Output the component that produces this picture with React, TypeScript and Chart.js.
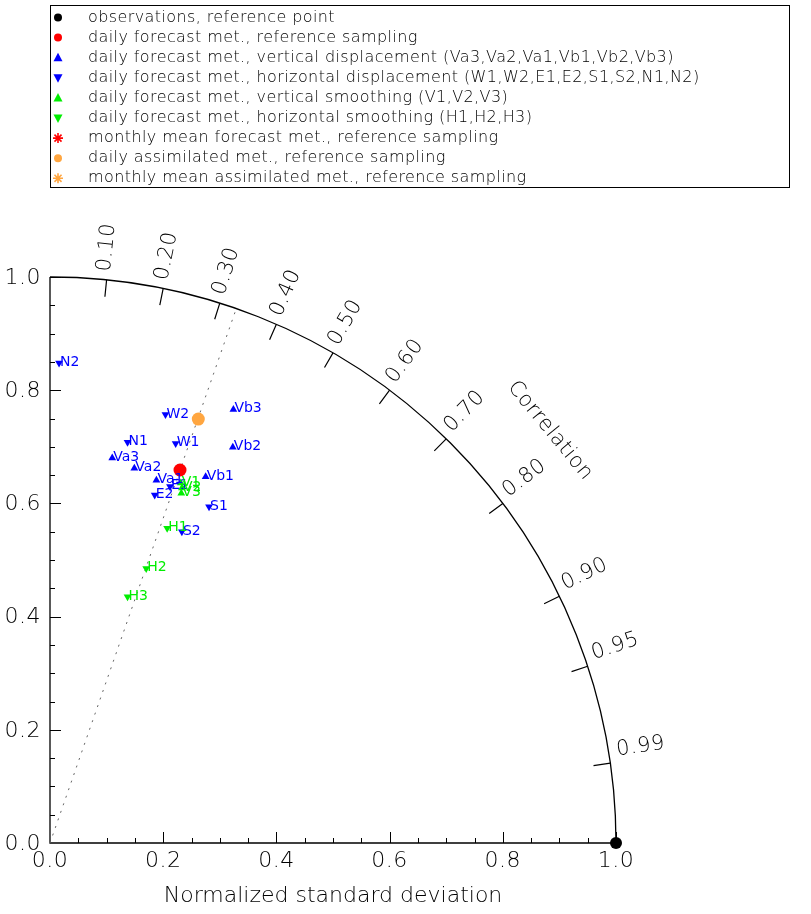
import React, { useEffect, useRef } from 'react';
import { Chart, registerables } from 'chart.js';

Chart.register(...registerables);

// ---------------- data ----------------
const obsX = [1.0];
const obsY = [0.0];

const dailyRefX = [0.2297];
const dailyRefY = [0.659];

const vertDispNames = ['Va3', 'Va2', 'Va1', 'Vb1', 'Vb2', 'Vb3'];
const vertDispX = [0.110, 0.149, 0.188, 0.275, 0.323, 0.324];
const vertDispY = [0.680, 0.662, 0.641, 0.647, 0.699, 0.766];

const horizDispNames = ['W1', 'W2', 'E1', 'E2', 'S1', 'S2', 'N1', 'N2'];
const horizDispX = [0.222, 0.204, 0.212, 0.185, 0.281, 0.233, 0.137, 0.016];
const horizDispY = [0.706, 0.757, 0.630, 0.615, 0.594, 0.550, 0.708, 0.848];

const vertSmoothNames = ['V1', 'V2', 'V3'];
const vertSmoothX = [0.231, 0.233, 0.232];
const vertSmoothY = [0.636, 0.627, 0.618];

const horizSmoothNames = ['H1', 'H2', 'H3'];
const horizSmoothX = [0.207, 0.170, 0.137];
const horizSmoothY = [0.556, 0.485, 0.435];

const assimRefX = [0.262];
const assimRefY = [0.749];

const corrTicks = [0.1, 0.2, 0.3, 0.4, 0.5, 0.6, 0.7, 0.8, 0.9, 0.95, 0.99];
const corrTickLabels = ['0.10', '0.20', '0.30', '0.40', '0.50', '0.60', '0.70', '0.80', '0.90', '0.95', '0.99'];
const stdTickValues = [0, 0.2, 0.4, 0.6, 0.8, 1.0];
const stdTickLabels = ['0.0', '0.2', '0.4', '0.6', '0.8', '1.0'];

const legendLabels = [
  'observations, reference point',
  'daily forecast met., reference sampling',
  'daily forecast met., vertical displacement (Va3,Va2,Va1,Vb1,Vb2,Vb3)',
  'daily forecast met., horizontal displacement (W1,W2,E1,E2,S1,S2,N1,N2)',
  'daily forecast met., vertical smoothing (V1,V2,V3)',
  'daily forecast met., horizontal smoothing (H1,H2,H3)',
  'monthly mean forecast met., reference sampling',
  'daily assimilated met., reference sampling',
  'monthly mean assimilated met., reference sampling',
];
const legendColors = ['#000000', '#ff0000', '#0000ff', '#0000ff', '#00ee00', '#00ee00', '#ff0000', '#ffa640', '#ffa640'];
const legendMarkers = ['circle', 'circle', 'up', 'down', 'up', 'down', 'star', 'circle', 'star'];

const xAxisTitle = 'Normalized standard deviation';
const corrTitle = 'Correlation';

const FONT = '"DejaVu Sans", sans-serif';
const W = '300';
const TEXT = '#000';

const pts = (xs: number[], ys: number[]) => xs.map((x, i) => ({ x, y: ys[i] }));

function drawMarker(ctx: CanvasRenderingContext2D, type: string, x: number, y: number, color: string) {
  ctx.save();
  ctx.fillStyle = color;
  ctx.strokeStyle = color;
  if (type === 'circle') {
    ctx.beginPath();
    ctx.arc(x, y, 4, 0, Math.PI * 2);
    ctx.fill();
  } else if (type === 'up' || type === 'down') {
    const s = type === 'up' ? 1 : -1;
    ctx.beginPath();
    ctx.moveTo(x, y - 5 * s);
    ctx.lineTo(x - 4.5, y + 3.5 * s);
    ctx.lineTo(x + 4.5, y + 3.5 * s);
    ctx.closePath();
    ctx.fill();
  } else if (type === 'star') {
    ctx.lineWidth = 1.6;
    ctx.beginPath();
    for (let k = 0; k < 4; k++) {
      const a = (k * Math.PI) / 4;
      ctx.moveTo(x - 5 * Math.cos(a), y - 5 * Math.sin(a));
      ctx.lineTo(x + 5 * Math.cos(a), y + 5 * Math.sin(a));
    }
    ctx.stroke();
  }
  ctx.restore();
}

const taylorPlugin = {
  id: 'taylor',
  beforeDatasetsDraw(chart: any) {
    const ctx: any = chart.ctx;
    const xs = chart.scales.x;
    const ys = chart.scales.y;
    const cx = xs.getPixelForValue(0);
    const cy = ys.getPixelForValue(0);
    const R = xs.getPixelForValue(1) - cx;
    ctx.save();
    ctx.strokeStyle = '#000';
    ctx.lineWidth = 1.3;
    // axes
    ctx.beginPath();
    ctx.moveTo(cx, ys.getPixelForValue(1));
    ctx.lineTo(cx, cy);
    ctx.lineTo(xs.getPixelForValue(1), cy);
    ctx.stroke();
    // arc
    ctx.beginPath();
    ctx.arc(cx, cy, R, -Math.PI / 2, 0);
    ctx.stroke();
    // axis ticks
    ctx.lineWidth = 1;
    ctx.beginPath();
    for (let i = 1; i <= 20; i++) {
      const v = i / 20;
      const len = i % 4 === 0 ? 11 : 5;
      const px = Math.round(xs.getPixelForValue(v)) + 0.5;
      ctx.moveTo(px, cy);
      ctx.lineTo(px, cy - len);
      const py = Math.round(ys.getPixelForValue(v)) + 0.5;
      ctx.moveTo(cx, py);
      ctx.lineTo(cx + len, py);
    }
    ctx.stroke();
    // correlation ticks
    ctx.lineWidth = 1.2;
    ctx.beginPath();
    corrTicks.forEach((c) => {
      const th = Math.acos(c);
      ctx.moveTo(cx + R * Math.cos(th), cy - R * Math.sin(th));
      ctx.lineTo(cx + (R - 17) * Math.cos(th), cy - (R - 17) * Math.sin(th));
    });
    ctx.stroke();

    // tick labels
    ctx.fillStyle = TEXT;
    ctx.font = `${W} 22px ${FONT}`;
    ctx.letterSpacing = '0.5px';
    ctx.textAlign = 'center';
    ctx.textBaseline = 'middle';
    stdTickValues.forEach((v, i) => {
      ctx.fillText(stdTickLabels[i], xs.getPixelForValue(v), cy + 18);
    });
    ctx.textAlign = 'right';
    stdTickValues.forEach((v, i) => {
      ctx.fillText(stdTickLabels[i], cx - 9, ys.getPixelForValue(v) + 1);
    });
    ctx.letterSpacing = '0px';
    ctx.textAlign = 'center';
    ctx.fillText(xAxisTitle, (cx + xs.getPixelForValue(1)) / 2, cy + 53);

    // correlation labels
    ctx.letterSpacing = '0.5px';
    ctx.font = `${W} 21px ${FONT}`;
    corrTicks.forEach((c, i) => {
      const th = Math.acos(c);
      const ux = Math.cos(th), uy = -Math.sin(th);
      const nx = -Math.sin(th), ny = -Math.cos(th);
      const off = 13.5 - 10.5 * Math.sin(th);
      const ax = cx + (R + 8) * ux + off * nx;
      const ay = cy + (R + 8) * uy + off * ny;
      ctx.save();
      ctx.translate(ax, ay);
      ctx.rotate(-th);
      ctx.textAlign = 'left';
      ctx.textBaseline = 'middle';
      ctx.fillText(corrTickLabels[i], 0, 0);
      ctx.restore();
    });
    // correlation title
    const tt = (39.5 * Math.PI) / 180;
    ctx.save();
    ctx.translate(cx + R * 1.145 * Math.cos(tt), cy - R * 1.145 * Math.sin(tt));
    ctx.rotate(Math.PI / 2 - tt);
    ctx.textAlign = 'center';
    ctx.textBaseline = 'middle';
    ctx.fillText(corrTitle, 0, 0);
    ctx.restore();
    ctx.restore();
  },
  afterDatasetsDraw(chart: any) {
    const ctx: any = chart.ctx;
    ctx.save();
    ctx.font = `14px ${FONT}`;
    ctx.textAlign = 'left';
    ctx.textBaseline = 'alphabetic';
    chart.data.datasets.forEach((ds: any, di: number) => {
      if (!ds.pointNames) return;
      const meta = chart.getDatasetMeta(di);
      ctx.fillStyle = ds.labelColor;
      meta.data.forEach((el: any, i: number) => {
        ctx.fillText(ds.pointNames[i], el.x + 1, el.y + 3);
      });
    });
    ctx.restore();

    // legend
    ctx.save();
    ctx.strokeStyle = '#000';
    ctx.lineWidth = 1;
    ctx.strokeRect(50.5, 5.5, 739, 182);
    ctx.font = `${W} 16px ${FONT}`;
    ctx.letterSpacing = '0.4px';
    ctx.textAlign = 'left';
    ctx.textBaseline = 'middle';
    legendLabels.forEach((lab, i) => {
      const y = 17.5 + i * 20.1;
      drawMarker(ctx, legendMarkers[i], 58, y, legendColors[i]);
      ctx.fillStyle = TEXT;
      ctx.fillText(lab, 88, y);
    });
    ctx.restore();
  },
};

export default function App() {
  const ref = useRef<HTMLCanvasElement>(null);
  useEffect(() => {
    if (!ref.current) return;
    const refR = Math.hypot(dailyRefX[0], dailyRefY[0]);
    const chart = new Chart(ref.current, {
      type: 'scatter',
      data: {
        datasets: [
          {
            type: 'line',
            label: 'reference correlation',
            data: [{ x: 0, y: 0 }, { x: dailyRefX[0] / refR, y: dailyRefY[0] / refR }],
            borderColor: '#666',
            borderWidth: 1,
            borderDash: [2, 6],
            pointRadius: 0,
            fill: false,
            order: 100,
          } as any,
          {
            label: legendLabels[0],
            data: pts(obsX, obsY),
            backgroundColor: '#000',
            borderColor: '#000',
            pointStyle: 'circle',
            pointRadius: 6,
            borderWidth: 0,
          },
          {
            label: legendLabels[2],
            data: pts(vertDispX, vertDispY),
            backgroundColor: '#0000ff',
            borderColor: '#0000ff',
            pointStyle: 'triangle',
            pointRadius: 4.5,
            borderWidth: 0,
            pointNames: vertDispNames,
            labelColor: '#0000ff',
          } as any,
          {
            label: legendLabels[3],
            data: pts(horizDispX, horizDispY),
            backgroundColor: '#0000ff',
            borderColor: '#0000ff',
            pointStyle: 'triangle',
            rotation: 180,
            pointRadius: 4.5,
            borderWidth: 0,
            pointNames: horizDispNames,
            labelColor: '#0000ff',
          } as any,
          {
            label: legendLabels[1],
            data: pts(dailyRefX, dailyRefY),
            backgroundColor: '#ff0000',
            borderColor: '#ff0000',
            pointStyle: 'circle',
            pointRadius: 6.5,
            borderWidth: 0,
          },
          {
            label: legendLabels[4],
            data: pts(vertSmoothX, vertSmoothY),
            backgroundColor: '#00ee00',
            borderColor: '#00ee00',
            pointStyle: 'triangle',
            pointRadius: 4.5,
            borderWidth: 0,
            pointNames: vertSmoothNames,
            labelColor: '#00ee00',
          } as any,
          {
            label: legendLabels[5],
            data: pts(horizSmoothX, horizSmoothY),
            backgroundColor: '#00ee00',
            borderColor: '#00ee00',
            pointStyle: 'triangle',
            rotation: 180,
            pointRadius: 4.5,
            borderWidth: 0,
            pointNames: horizSmoothNames,
            labelColor: '#00ee00',
          } as any,
          {
            label: legendLabels[7],
            data: pts(assimRefX, assimRefY),
            backgroundColor: '#ffa640',
            borderColor: '#ffa640',
            pointStyle: 'circle',
            pointRadius: 6.5,
            borderWidth: 0,
          },
        ],
      },
      options: {
        animation: false,
        responsive: false,
        devicePixelRatio: 1,
        layout: { padding: { left: 50, right: 195, top: 277, bottom: 71 } },
        scales: {
          x: { type: 'linear', min: 0, max: 1, display: false },
          y: { type: 'linear', min: 0, max: 1, display: false },
        },
        plugins: { legend: { display: false }, tooltip: { enabled: false }, title: { display: false } },
        elements: { point: { hoverRadius: 0 } },
        events: [],
        clip: false as any,
      } as any,
      plugins: [taylorPlugin],
    });
    return () => chart.destroy();
  }, []);
  return (
    <div style={{ position: 'absolute', left: 0, top: 0, width: 811, height: 914 }}>
      <canvas ref={ref} width={811} height={914} style={{ width: 811, height: 914, display: 'block' }} />
    </div>
  );
}
